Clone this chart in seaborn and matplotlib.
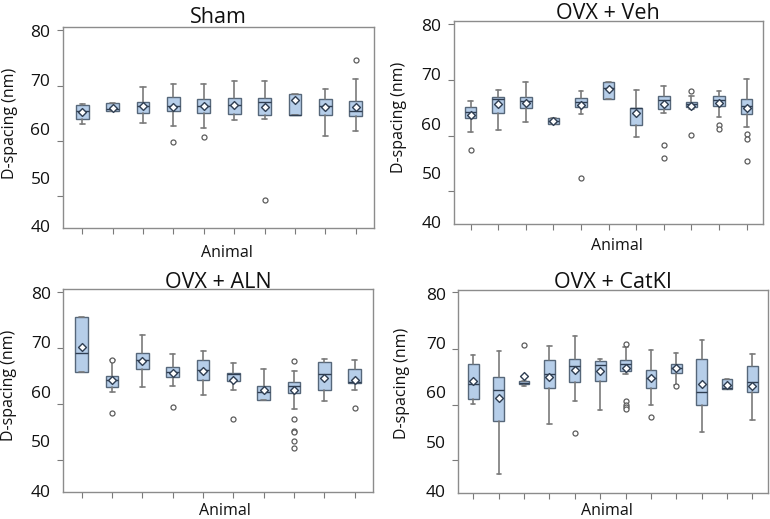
import matplotlib
matplotlib.use("Agg")
import pandas as pd
import matplotlib.pyplot as plt
import seaborn as sns

sns.set_theme(style="white")
plt.rcParams['font.family'] = ['Open Sans', 'DejaVu Sans']

# summary values (nm), one entry per animal
sham_lo = [61.05, 63.58, 61.26, 60.51, 60.09, 61.74, 62.08, 62.90, 58.46, 59.49]
sham_q1 = [62.07, 63.58, 63.31, 63.72, 63.24, 63.10, 62.90, 62.90, 62.90, 62.56]
sham_med = [63.58, 63.99, 64.68, 64.75, 64.68, 64.81, 65.49, 62.90, 64.61, 63.58]
sham_q3 = [64.80, 65.20, 65.57, 66.52, 66.11, 66.32, 66.32, 67.14, 66.05, 65.64]
sham_hi = [65.14, 65.20, 68.58, 69.26, 69.26, 69.74, 69.87, 67.14, 68.17, 70.22]
sham_mean = [63.38, 64.26, 64.68, 64.41, 64.62, 64.81, 64.47, 65.98, 64.55, 64.41]
sham_out = [[], [], [], [57.3], [58.38], [], [45.47], [], [], [74.18]]

veh_lo = [58.40, 58.67, 60.43, 60.02, 62.05, 64.96, 57.38, 62.12, 63.07, 61.44, 59.41]
veh_q1 = [61.24, 62.19, 63.13, 60.02, 63.34, 64.96, 59.68, 63.07, 63.34, 63.54, 61.98]
veh_med = [62.32, 65.03, 64.69, 60.63, 64.42, 67.26, 63.13, 64.76, 63.95, 64.89, 63.54]
veh_q3 = [63.47, 65.37, 65.37, 61.24, 65.24, 68.48, 63.27, 65.71, 64.49, 65.71, 64.96]
veh_hi = [64.56, 66.92, 68.41, 61.24, 66.73, 68.48, 66.92, 67.74, 65.57, 66.59, 69.02]
veh_mean = [61.71, 64.02, 64.15, 60.63, 63.75, 66.99, 62.12, 64.09, 63.68, 64.28, 63.13]
veh_out = [[54.74], [], [], [], [48.99], [], [], [55.76, 53.12], [66.72, 57.79],
           [59.68, 59.0], [57.92, 56.98, 52.51]]

aln_lo = [63.94, 59.96, 60.97, 61.10, 59.42, 60.43, 58.27, 56.52, 58.07, 60.43]
aln_q1 = [63.94, 60.90, 64.61, 63.06, 62.32, 62.11, 58.27, 59.69, 60.36, 61.71]
aln_med = [67.85, 62.38, 66.50, 64.07, 64.34, 63.60, 59.95, 61.10, 63.67, 61.98]
aln_q3 = [75.13, 63.19, 67.85, 65.08, 66.36, 63.80, 61.24, 61.91, 65.96, 64.54]
aln_hi = [75.13, 66.43, 71.56, 67.71, 68.32, 65.76, 64.61, 64.14, 66.63, 66.43]
aln_mean = [68.99, 62.32, 66.30, 63.73, 64.21, 62.45, 60.43, 60.29, 62.86, 62.45]
aln_out = [[], [66.43, 55.71], [], [56.92], [], [54.56], [],
           [66.16, 54.56, 52.13, 51.86, 50.04, 48.69], [], [56.72]]

cat_lo = [57.59, 43.43, 61.40, 53.68, 58.20, 56.45, 63.73, 57.53, 61.57, 52.00, 60.76, 54.42]
cat_q1 = [58.61, 54.29, 61.64, 60.90, 62.11, 62.25, 64.34, 60.90, 64.00, 57.39, 60.76, 60.16]
cat_med = [61.78, 60.43, 61.98, 63.73, 65.35, 65.49, 65.69, 62.92, 64.88, 60.16, 60.90, 62.18]
cat_q3 = [65.82, 63.06, 62.25, 66.50, 66.70, 66.30, 66.63, 64.48, 65.82, 66.84, 62.72, 65.35]
cat_hi = [67.65, 68.32, 62.25, 69.33, 71.36, 66.77, 69.30, 68.66, 68.05, 70.68, 62.72, 67.78]
cat_mean = [62.25, 58.81, 63.40, 63.06, 64.54, 64.34, 64.95, 62.92, 64.88, 61.71, 61.44, 61.37]
cat_out = [[], [], [69.67], [], [51.79], [], [69.87, 58.34, 57.39, 56.99, 56.72],
           [54.96], [61.37], [], [], []]

y_ticks = [40, 50, 60, 70, 80]
y_marks = [80.3, 68.8, 57.55, 46.25]

BOX_FILL = "#b6cee9"
BOX_EDGE = "#56677a"
GREY = "#7a7a7a"


def draw_panel(ax, title, lo, q1, med, q3, hi, mean, out, xlim, ylab_xy, xlab_xy, title_pad):
    n = len(med)
    stats = []
    for i in range(n):
        stats.append(dict(med=med[i], q1=q1[i], q3=q3[i], whislo=lo[i], whishi=hi[i], fliers=[]))
    ax.bxp(stats, positions=list(range(n)), widths=0.42, capwidths=0.17,
           patch_artist=True, showfliers=False, manage_ticks=False,
           boxprops=dict(facecolor=BOX_FILL, edgecolor=BOX_EDGE, linewidth=1.0),
           medianprops=dict(color="#2f3e52", linewidth=1.0),
           whiskerprops=dict(color=GREY, linewidth=1.2),
           capprops=dict(color=GREY, linewidth=1.2))

    fl = pd.DataFrame([(i, v) for i, vals in enumerate(out) for v in vals], columns=["animal", "d"])
    if len(fl):
        sns.scatterplot(data=fl, x="animal", y="d", ax=ax, marker="o", s=13,
                        facecolor="white", edgecolor="#5c5c5c", linewidth=0.9, zorder=4)
    mn = pd.DataFrame({"animal": list(range(n)), "d": mean})
    sns.scatterplot(data=mn, x="animal", y="d", ax=ax, marker="D", s=16,
                    facecolor="white", edgecolor="#2f3e52", linewidth=1.0, zorder=5)

    ax.set_xlim(*xlim)
    ax.set_ylim(39.65, 80.8)
    ax.set_xticks(list(range(n)))
    ax.set_xticklabels([])
    ax.set_yticks(y_ticks)
    ax.set_yticklabels([str(t) for t in y_ticks], fontsize=12.5, color="#111111")
    ax.set_yticks(y_marks, minor=True)
    ax.tick_params(axis="y", which="major", length=0, pad=9)
    ax.tick_params(axis="y", which="minor", left=True, length=4, width=0.8, color=GREY, direction="out")
    ax.tick_params(axis="x", bottom=True, length=4, width=0.8, color=GREY, direction="out")
    for s in ax.spines.values():
        s.set_color("#8c8c8c")
        s.set_linewidth(1.0)

    ax.set_title(title, fontsize=15.5, pad=title_pad, color="#111111")
    ax.set_ylabel("D-spacing (nm)", fontsize=11.5, color="#111111")
    ax.yaxis.set_label_coords(*ylab_xy)
    ax.set_xlabel("Animal", fontsize=11.5, color="#111111")
    ax.xaxis.set_label_coords(*xlab_xy)


fig = plt.figure(figsize=(7.7, 5.19), dpi=100)
ax1 = fig.add_axes([0.0818, 0.5607, 0.4039, 0.3867])
ax2 = fig.add_axes([0.5896, 0.5684, 0.4009, 0.3906])
ax3 = fig.add_axes([0.0822, 0.0514, 0.4026, 0.3917])
ax4 = fig.add_axes([0.5952, 0.0501, 0.4018, 0.3917])

draw_panel(ax1, "Sham", sham_lo, sham_q1, sham_med, sham_q3, sham_hi, sham_mean, sham_out,
           (-0.63, 9.6), (-0.145, 0.523), (0.527, -0.085), 3)
draw_panel(ax2, "OVX + Veh", veh_lo, veh_q1, veh_med, veh_q3, veh_hi, veh_mean, veh_out,
           (-0.6, 10.58), (-0.152, 0.528), (0.527, -0.069), 1.5)
draw_panel(ax3, "OVX + ALN", aln_lo, aln_q1, aln_med, aln_q3, aln_hi, aln_mean, aln_out,
           (-0.61, 9.61), (-0.149, 0.528), (0.52, -0.052), 1)
draw_panel(ax4, "OVX + CatKI", cat_lo, cat_q1, cat_med, cat_q3, cat_hi, cat_mean, cat_out,
           (-0.59, 11.6), (-0.156, 0.54), (0.48, -0.05), 1.5)

fig.savefig("out.png", dpi=100)
